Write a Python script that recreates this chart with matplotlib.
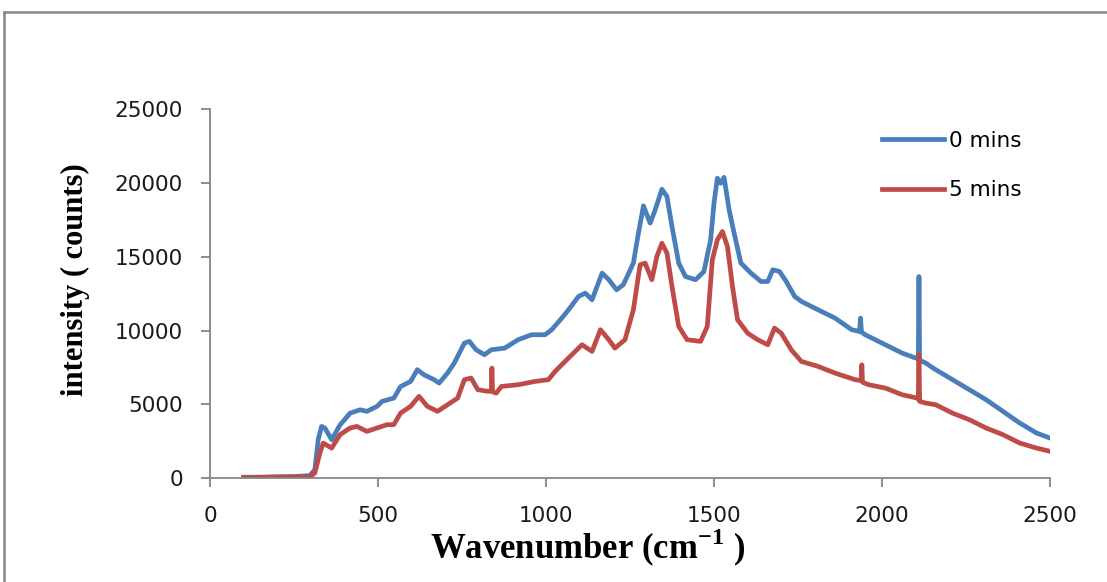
import numpy as np
import matplotlib
matplotlib.use('Agg')
import matplotlib.pyplot as plt
from matplotlib.lines import Line2D

# wavenumber (cm-1) / intensity
x_0min = [100, 150, 200, 250, 297, 312, 322, 332, 342, 362, 387, 417, 447, 467, 497, 512,
          547, 567, 597, 617, 637, 667, 682, 707, 727, 757, 772, 792, 817, 837, 877, 917,
          957, 997, 1017, 1047, 1067, 1097, 1117, 1137, 1167, 1187, 1210, 1230, 1260, 1275,
          1290, 1310, 1325, 1345, 1360, 1375, 1395, 1415, 1445, 1470, 1490, 1500, 1510, 1520,
          1530, 1545, 1560, 1580, 1610, 1640, 1660, 1675, 1695, 1715, 1740, 1760, 1810, 1860,
          1910, 1933, 1936, 1939, 1950, 2010, 2060, 2100, 2108, 2110, 2112, 2130, 2160, 2210,
          2260, 2310, 2360, 2410, 2460, 2500]
y_0min = [50, 60, 80, 100, 160, 565, 2600, 3500, 3390, 2600, 3600, 4400, 4630, 4520, 4860, 5200,
          5420, 6200, 6550, 7350, 7000, 6670, 6440, 7120, 7800, 9150, 9270, 8700, 8360, 8700, 8810, 9380,
          9720, 9720, 10060, 10850, 11410, 12320, 12540, 12090, 13900, 13450, 12770, 13110, 14580, 16600,
          18460, 17290, 18190, 19590, 19100, 17060, 14580, 13670, 13450, 14010, 16160, 18650, 20340, 20000,
          20400, 18190, 16600, 14580, 13900, 13330, 13330, 14125, 14010, 13330, 12320, 11980, 11410, 10850,
          10060, 9940, 10850, 9900, 9720, 9040, 8475, 8140, 8100, 13670, 8000, 7800, 7345, 6670,
          5990, 5310, 4520, 3730, 3050, 2710]

x_5min = [100, 150, 200, 250, 297, 312, 327, 337, 362, 387, 417, 437, 467, 497, 527, 547,
          567, 597, 622, 647, 677, 707, 737, 757, 777, 797, 827, 837, 839, 841, 852, 867,
          917, 967, 1007, 1027, 1067, 1107, 1137, 1162, 1187, 1205, 1235, 1260, 1280, 1295,
          1315, 1330, 1345, 1360, 1375, 1395, 1420, 1460, 1480, 1495, 1510, 1525, 1540, 1555,
          1570, 1600, 1630, 1660, 1680, 1700, 1730, 1760, 1810, 1860, 1920, 1938, 1940, 1942,
          1960, 2010, 2060, 2105, 2108, 2110, 2112, 2130, 2160, 2210, 2260, 2310, 2360, 2410,
          2460, 2500]
y_5min = [30, 40, 60, 70, 70, 340, 1700, 2370, 2030, 2940, 3390, 3500, 3160, 3390, 3620, 3620,
          4400, 4860, 5540, 4860, 4520, 4970, 5420, 6670, 6780, 5990, 5880, 5900, 7460, 5850, 5760, 6210,
          6330, 6550, 6670, 7230, 8140, 9040, 8590, 10060, 9380, 8810, 9380, 11410, 14460, 14580,
          13450, 15030, 15930, 15260, 13000, 10280, 9380, 9270, 10280, 14800, 16160, 16720, 15710, 13000,
          10740, 9830, 9380, 9040, 10170, 9830, 8700, 7910, 7570, 7120, 6670, 6600, 7680, 6500,
          6330, 6100, 5650, 5420, 5350, 8360, 5200, 5085, 4970, 4400, 3955, 3390, 2940, 2370,
          2030, 1810]

series_labels = ['0 mins', '5 mins']
x_ticks = [0, 500, 1000, 1500, 2000, 2500]
y_ticks = [0, 5000, 10000, 15000, 20000, 25000]

plt.rcParams['mathtext.fontset'] = 'custom'
plt.rcParams['mathtext.rm'] = 'Liberation Serif:bold'
plt.rcParams['mathtext.bf'] = 'Liberation Serif:bold'

W, H = 1107, 582
fig = plt.figure(figsize=(W / 100, H / 100), dpi=100)

def fx(px):
    return px / W

def fy(py):
    return 1 - py / H

# outer chart frame (only left and top edges are visible)
grey = '#868686'
fig.add_artist(Line2D([fx(4), fx(4)], [fy(12), 0], color=grey, lw=1.8))
fig.add_artist(Line2D([fx(4), 1], [fy(12), fy(12)], color=grey, lw=1.8))

ax = fig.add_axes([fx(210), fy(478), fx(1050) - fx(210), fy(109.5) - fy(478)])

ax.plot(x_0min, y_0min, color='#4A7EBB', lw=3.4, solid_joinstyle='round', label=series_labels[0])
ax.plot(x_5min, y_5min, color='#BE4B48', lw=3.4, solid_joinstyle='round', label=series_labels[1])

ax.set_xlim(0, 2500)
ax.set_ylim(0, 25000)
ax.set_xticks(x_ticks)
ax.set_yticks(y_ticks)
ax.set_xticklabels([str(v) for v in x_ticks])
ax.set_yticklabels([str(v) for v in y_ticks])

for s in ['top', 'right']:
    ax.spines[s].set_visible(False)
for s in ['left', 'bottom']:
    ax.spines[s].set_color(grey)
    ax.spines[s].set_linewidth(1.3)

ax.tick_params(axis='both', direction='out', length=6.5, width=1.3, color=grey,
               labelsize=15.5, labelcolor='#1a1a1a')
ax.tick_params(axis='y', pad=13)
ax.tick_params(axis='x', pad=14)

fig.text(fx(588), fy(559), 'Wavenumber (cm$^{\\mathrm{-1}}$ )', ha='center', va='baseline',
         family='Liberation Serif', weight='bold', fontsize=25)
fig.text(fx(75), fy(280), 'intensity ( counts)', ha='center', va='center', rotation=90,
         family='Liberation Serif', weight='bold', fontsize=22)

leg = ax.legend(loc='upper left', bbox_to_anchor=(fx(882), fy(131)),
                bbox_transform=fig.transFigure, frameon=False, fontsize=15.5,
                handlelength=2.9, handletextpad=0.2, labelspacing=1.35,
                borderpad=0, borderaxespad=0)

fig.savefig('out.png', dpi=100)
